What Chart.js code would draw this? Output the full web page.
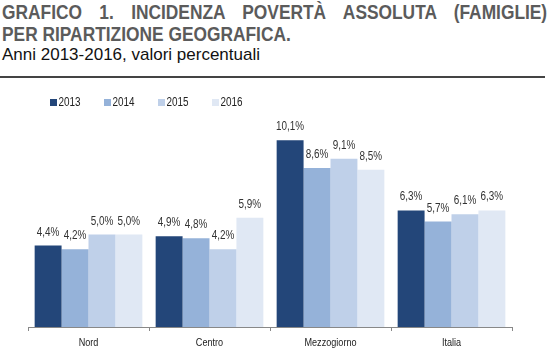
<!DOCTYPE html>
<html>
<head>
<meta charset="utf-8">
<script src="https://cdn.jsdelivr.net/npm/chart.js@4.4.1/dist/chart.umd.min.js"></script>
<style>
  body { margin: 0; width: 552px; height: 361px; background: #fff; position: relative; overflow: hidden;
         font-family: "Liberation Sans", Arial, sans-serif; }
  /* no Arial Narrow here, so the bold title is squeezed horizontally */
  .t1, .t2 { position: absolute; left: 2px; font-weight: bold; font-size: 21px; line-height: 22px; color: #5b5b5b;
             transform: scaleX(0.826); transform-origin: 0 0; white-space: nowrap; }
  .t1 { top: 1px; width: 660px; text-align: justify; text-align-last: justify; white-space: normal; }
  .t2 { top: 23px; }
  .sub { position: absolute; left: 2px; top: 45px; font-size: 17px; line-height: 20px; color: #111; }
  .rule { position: absolute; left: 0; top: 76px; width: 545px; height: 0; border-top: 2px solid #444; }
  #chartCanvas { position: absolute; left: 0; top: 80px; }
</style>
</head>
<body>
<div class="t1">GRAFICO 1. INCIDENZA POVERTÀ ASSOLUTA (FAMIGLIE)</div>
<div class="t2">PER RIPARTIZIONE GEOGRAFICA.</div>
<div class="sub">Anni 2013-2016, valori percentuali</div>
<div class="rule"></div>
<canvas id="chartCanvas" width="552" height="281"></canvas>
<script>
const categories = ["Nord", "Centro", "Mezzogiorno", "Italia"];
const years = ["2013", "2014", "2015", "2016"];
const values2013 = [4.4, 4.9, 10.1, 6.3];
const values2014 = [4.2, 4.8, 8.6, 5.7];
const values2015 = [5.0, 4.2, 9.1, 6.1];
const values2016 = [5.0, 5.9, 8.5, 6.3];
const colors = ["#234679", "#95b2d9", "#bfd0e9", "#e0e8f4"];

const FONT = '"Liberation Sans", Arial, sans-serif';
const NARROW = 0.826;

function fmt(v) {
    return v.toFixed(1).replace(".", ",") + "%";
}

// narrow text: draw with a horizontal squeeze
function narrowText(ctx, text, x, y) {
    ctx.save();
    ctx.translate(x, y);
    ctx.scale(NARROW, 1);
    ctx.fillText(text, 0, 0);
    ctx.restore();
}

// value labels above every bar
const barLabels = {
    id: "barLabels",
    afterDatasetsDraw: function (chart) {
        const ctx = chart.ctx;
        ctx.save();
        ctx.font = "12px " + FONT;
        ctx.fillStyle = "#333";
        ctx.textAlign = "center";
        ctx.textBaseline = "alphabetic";
        chart.data.datasets.forEach(function (ds, i) {
            chart.getDatasetMeta(i).data.forEach(function (bar, j) {
                narrowText(ctx, fmt(ds.data[j]), bar.x, bar.y - 10);
            });
        });
        ctx.restore();
    }
};

// category names under the axis, placed by the x scale
const categoryLabels = {
    id: "categoryLabels",
    afterDraw: function (chart) {
        const ctx = chart.ctx;
        const xs = chart.scales.x;
        ctx.save();
        ctx.font = "11px " + FONT;
        ctx.fillStyle = "#222";
        ctx.textAlign = "center";
        ctx.textBaseline = "alphabetic";
        categories.forEach(function (c, i) {
            narrowText(ctx, c, xs.getPixelForValue(i), xs.top + 19);
        });
        ctx.restore();
    }
};

// small legend at the top left
const smallLegend = {
    id: "smallLegend",
    afterDraw: function (chart) {
        const ctx = chart.ctx;
        ctx.save();
        ctx.font = "12px " + FONT;
        ctx.textBaseline = "alphabetic";
        ctx.textAlign = "left";
        chart.data.datasets.forEach(function (ds, i) {
            const x = 50 + i * 54;
            ctx.fillStyle = ds.backgroundColor;
            ctx.fillRect(x, 19, 7, 7);
            ctx.fillStyle = "#222";
            narrowText(ctx, ds.label, x + 8.5, 26);
        });
        ctx.restore();
    }
};

const ctx = document.getElementById("chartCanvas").getContext("2d");
new Chart(ctx, {
    type: "bar",
    data: {
        labels: categories,
        datasets: [
            { label: years[0], data: values2013, backgroundColor: colors[0] },
            { label: years[1], data: values2014, backgroundColor: colors[1] },
            { label: years[2], data: values2015, backgroundColor: colors[2] },
            { label: years[3], data: values2016, backgroundColor: colors[3] }
        ]
    },
    options: {
        responsive: false,
        animation: false,
        devicePixelRatio: 1,
        layout: { padding: { left: 28, right: 40, top: 25, bottom: 30 } },
        datasets: { bar: { categoryPercentage: 0.89, barPercentage: 1.0 } },
        plugins: {
            legend: { display: false },
            tooltip: { enabled: false }
        },
        scales: {
            x: {
                grid: { display: true, drawOnChartArea: false, drawTicks: true, tickLength: 4, color: "#888", offset: true },
                border: { display: true, color: "#888", width: 1 },
                ticks: { display: false }
            },
            y: { display: false, min: 0, max: 12 }
        }
    },
    plugins: [barLabels, categoryLabels, smallLegend]
});
</script>
</body>
</html>
